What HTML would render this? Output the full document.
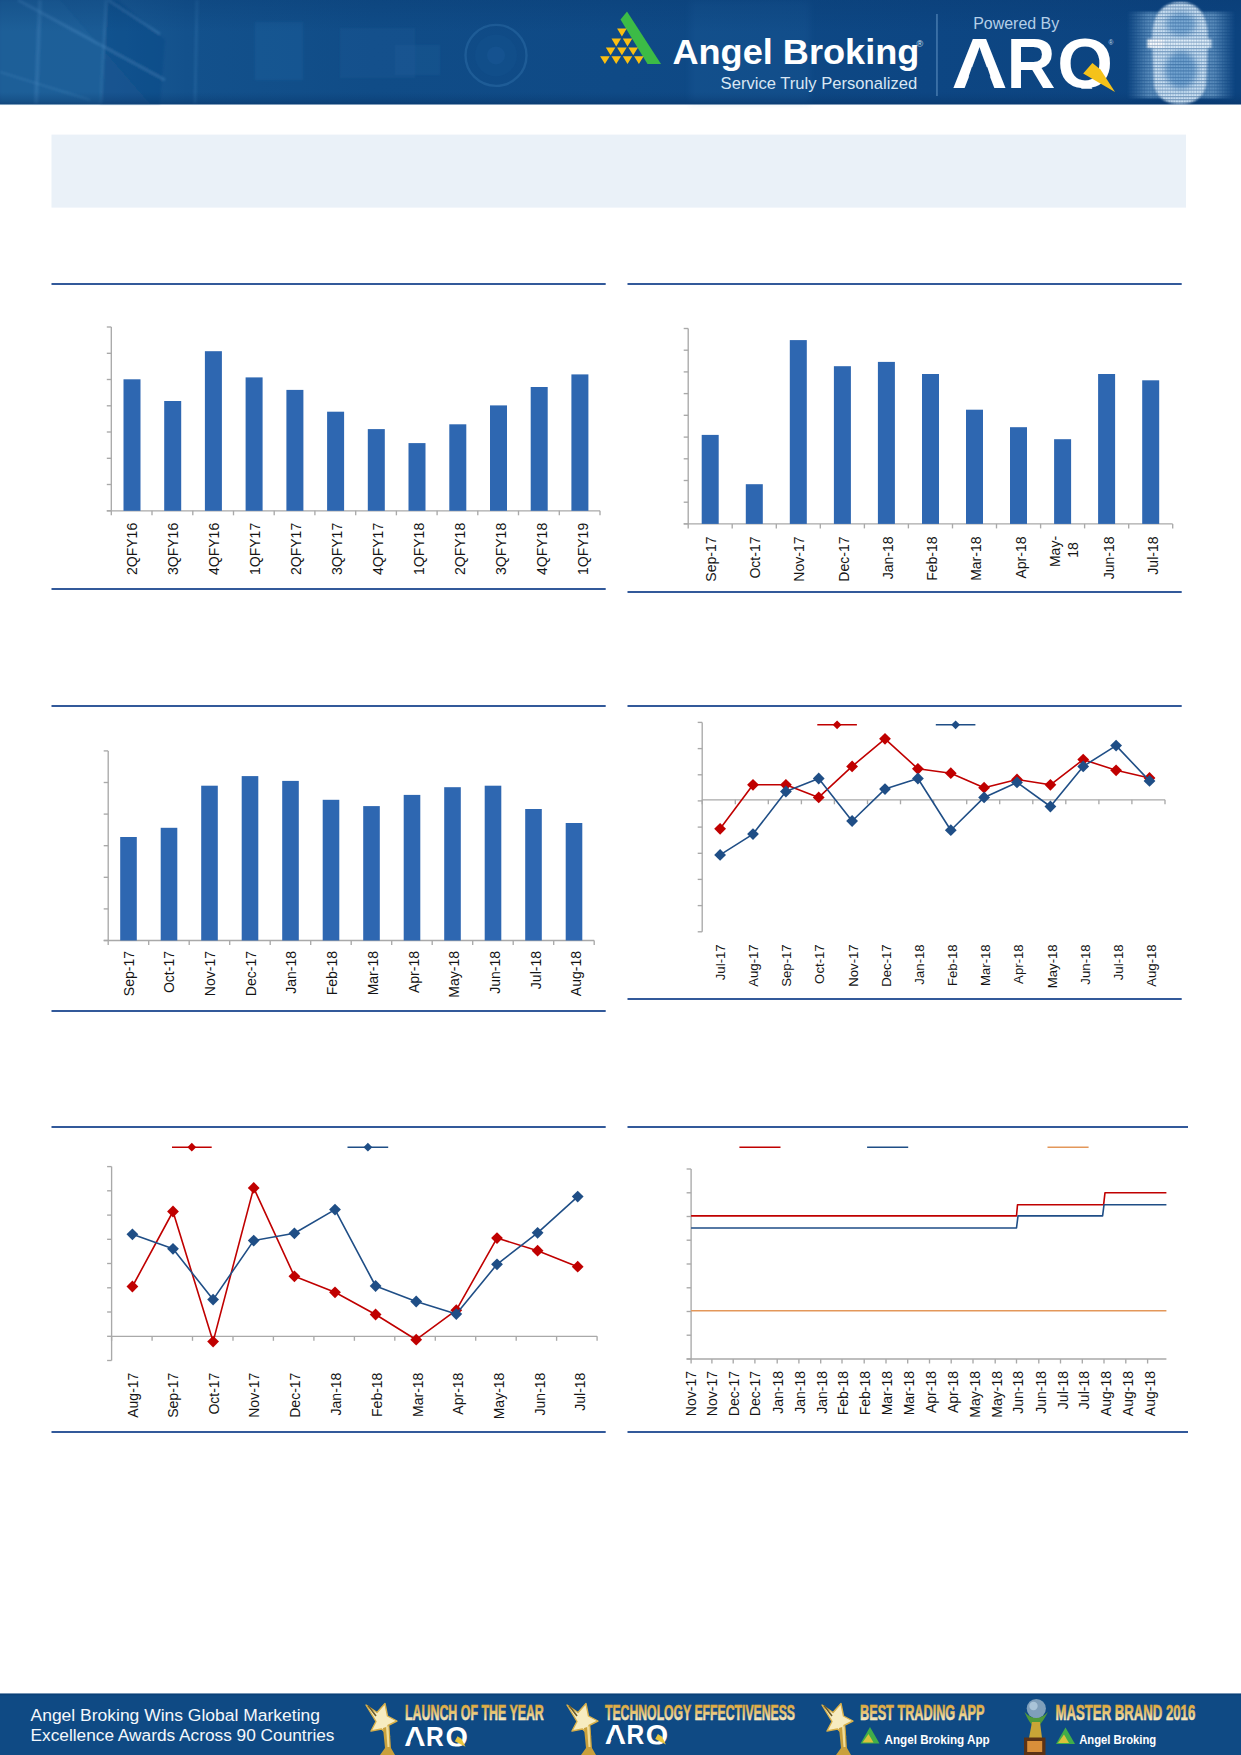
<!DOCTYPE html>
<html lang="en">
<head>
<meta charset="utf-8">
<title>Angel Broking - Market Outlook</title>
<style>
html,body{margin:0;padding:0;background:#fff;}
body{width:1241px;height:1755px;position:relative;overflow:hidden;font-family:"Liberation Sans",sans-serif;}
svg{position:absolute;left:0;top:0;display:block;}
text{font-family:"Liberation Sans",sans-serif;}
.lb{fill:#141414;}
</style>
</head>
<body>
<svg width="1241" height="1755" viewBox="0 0 1241 1755">

<defs>
<linearGradient id="hg" x1="0" y1="0" x2="1" y2="0">
<stop offset="0" stop-color="#1a5a94"/>
<stop offset="0.08" stop-color="#1a5b95"/>
<stop offset="0.15" stop-color="#13518c"/>
<stop offset="0.3" stop-color="#104c87"/>
<stop offset="0.5" stop-color="#0f4a86"/>
<stop offset="0.75" stop-color="#0d4683"/>
<stop offset="1" stop-color="#0c437f"/>
</linearGradient>
<linearGradient id="hv" x1="0" y1="0" x2="0" y2="1">
<stop offset="0" stop-color="#08386e" stop-opacity="0.3"/>
<stop offset="0.3" stop-color="#08386e" stop-opacity="0"/>
<stop offset="0.88" stop-color="#08386e" stop-opacity="0"/>
<stop offset="0.97" stop-color="#062f60" stop-opacity="0.3"/>
<stop offset="1" stop-color="#062f60" stop-opacity="0.5"/>
</linearGradient>
<radialGradient id="face" cx="0.5" cy="0.45" r="0.55">
<stop offset="0" stop-color="#cfe6f7" stop-opacity="0.95"/>
<stop offset="0.55" stop-color="#9cc6e6" stop-opacity="0.8"/>
<stop offset="1" stop-color="#3d7fb8" stop-opacity="0"/>
</radialGradient>
<linearGradient id="gold" x1="0" y1="0" x2="0" y2="1">
<stop offset="0" stop-color="#f6e39a"/>
<stop offset="0.5" stop-color="#d9b450"/>
<stop offset="1" stop-color="#b98a2a"/>
</linearGradient>
<linearGradient id="gtx" x1="0" y1="1705" x2="0" y2="1720" gradientUnits="userSpaceOnUse">
<stop offset="0" stop-color="#dba83e"/>
<stop offset="0.45" stop-color="#e6c16a"/>
<stop offset="1" stop-color="#f2e8c4"/>
</linearGradient>
<pattern id="grid" width="2.6" height="3.2" patternUnits="userSpaceOnUse">
<rect x="0" y="0" width="2.6" height="3.2" fill="#ffffff"/>
<rect x="0" y="0" width="0.8" height="3.2" fill="#c8c8c8"/>
<rect x="0" y="0" width="2.6" height="1.1" fill="#8c8c8c"/>
</pattern>
<linearGradient id="streak" x1="0" y1="0" x2="1" y2="0">
<stop offset="0" stop-color="#7fb2dc" stop-opacity="0"/>
<stop offset="0.2" stop-color="#8fbde3" stop-opacity="0.6"/>
<stop offset="0.8" stop-color="#8fbde3" stop-opacity="0.6"/>
<stop offset="1" stop-color="#7fb2dc" stop-opacity="0"/>
</linearGradient>
<filter id="b1" x="-20%" y="-20%" width="140%" height="140%"><feGaussianBlur stdDeviation="1.2"/></filter>
<filter id="b3" x="-30%" y="-30%" width="160%" height="160%"><feGaussianBlur stdDeviation="3.2"/></filter>
</defs>

<g id="header">
<rect x="0" y="0" width="1241" height="104.4" fill="url(#hg)"/>
<g filter="url(#b1)">
<polygon points="0,0 60,0 150,104 0,104" fill="#2b72ad" opacity="0.18"/>
<polygon points="108,0 118,0 165,40 160,104 100,104" fill="#0c4480" opacity="0.35"/>
<line x1="18" y1="0" x2="165" y2="80" stroke="#5a9bd0" stroke-width="3" opacity="0.28"/>
<line x1="108" y1="0" x2="160" y2="34" stroke="#5a9bd0" stroke-width="2.5" opacity="0.3"/>
<line x1="40" y1="0" x2="36" y2="104" stroke="#5a9bd0" stroke-width="4" opacity="0.22"/>
<line x1="106" y1="0" x2="101" y2="104" stroke="#5a9bd0" stroke-width="3" opacity="0.2"/>
<line x1="0" y1="72" x2="90" y2="100" stroke="#5a9bd0" stroke-width="2" opacity="0.2"/>
<line x1="197" y1="0" x2="195" y2="104" stroke="#5a9bd0" stroke-width="3" opacity="0.16"/>
<rect x="255" y="22" width="48" height="58" fill="#2a6fae" opacity="0.22"/>
<rect x="340" y="28" width="75" height="50" fill="#2a6fae" opacity="0.12"/>
<rect x="395" y="45" width="45" height="30" fill="#3a80bc" opacity="0.10"/>
</g>
<circle cx="496" cy="55.4" r="30.5" fill="none" stroke="#3576b0" stroke-width="2.4" opacity="0.4"/>
<circle cx="496" cy="55.4" r="21" fill="#14528f" opacity="0.4"/>
<circle cx="496" cy="55.4" r="9" fill="#1c5d9b" opacity="0.35"/>
<rect x="690" y="0" width="120" height="104.4" fill="#3a82c0" opacity="0.10" filter="url(#b3)"/>
<rect x="0" y="0" width="1241" height="104.4" fill="url(#hv)"/>
</g>
<rect x="51.5" y="134.6" width="1134.5" height="73" fill="#eaf1f8"/>
<g id="logos">
<polygon points="627,11.5 661,64 647.5,64 620.5,19.5" fill="#3cbb46"/>
<polygon points="617.1,28.6 626.7,28.6 621.9,36.4" fill="#fbbf12"/>
<polygon points="611.5,38.6 621,38.6 616.2,46.4" fill="#fbbf12"/>
<polygon points="622.8,38.6 632.3,38.6 627.5,46.4" fill="#fbbf12"/>
<polygon points="605.8,47.4 615.4,47.4 610.6,55.2" fill="#fbbf12"/>
<polygon points="617.1,47.4 626.7,47.4 621.9,55.2" fill="#fbbf12"/>
<polygon points="628.4,47.4 638,47.4 633.2,55.2" fill="#fbbf12"/>
<polygon points="600.1,56.2 609.7,56.2 604.9,64" fill="#fbbf12"/>
<polygon points="611.5,56.2 621,56.2 616.2,64" fill="#fbbf12"/>
<polygon points="622.8,56.2 632.3,56.2 627.5,64" fill="#fbbf12"/>
<polygon points="634.1,56.2 643.6,56.2 638.9,64" fill="#fbbf12"/>
<text x="672.4" y="64.2" font-size="35.2" font-weight="700" fill="#ffffff" textLength="247" lengthAdjust="spacingAndGlyphs">Angel Broking</text>
<text x="916.5" y="47" font-size="9" fill="#dfeaf5">®</text>
<text x="720.6" y="88.8" font-size="16.3" fill="#d9e7f4" textLength="196.6" lengthAdjust="spacingAndGlyphs">Service Truly Personalized</text>
<rect x="936.2" y="14" width="1.5" height="82" fill="#5f92c2" opacity="0.7"/>
<text x="973.2" y="28.6" font-size="16" fill="#b4cfe8" textLength="86" lengthAdjust="spacingAndGlyphs">Powered By</text>
<clipPath id="cq1"><path clip-rule="evenodd" d="M0 17.1 H1241 V88.7 H0Z M968.66 76.45 L990.45 76.45 L987.35 67.18 L971.76 67.18 Z"/></clipPath>
<text y="87.9" font-size="70.8" font-weight="700" fill="#ffffff" clip-path="url(#cq1)"><tspan x="951.6" textLength="55.97" lengthAdjust="spacingAndGlyphs">A</tspan><tspan x="1006.7" textLength="48.69" lengthAdjust="spacingAndGlyphs">R</tspan><tspan x="1057.3" textLength="55.75" lengthAdjust="spacingAndGlyphs">Q</tspan></text>
<polygon points="1092.4,63 1100.5,69.5 1115,92 1083.2,73.6" fill="#f5c21a"/>
<text x="1108.5" y="44.5" font-size="6.5" fill="#c7daec">®</text>
<mask id="fm" maskUnits="userSpaceOnUse" x="1120" y="0" width="121" height="105"><rect x="1120" y="0" width="121" height="105" fill="url(#grid)"/></mask>
<g mask="url(#fm)">
<g filter="url(#b1)">
<rect x="1127" y="12" width="108" height="86" fill="url(#streak)"/>
<path d="M1152 40 Q1152 2 1180.5 2 Q1208 2 1208 40 L1206 86 Q1201 104 1180 104 Q1159 104 1154 86 Z" fill="#d3e6f6" opacity="0.95"/>
</g>
<g filter="url(#b3)">
<ellipse cx="1181" cy="24" rx="15" ry="12" fill="#5f97c9" opacity="0.75"/>
<ellipse cx="1181" cy="70" rx="16" ry="19" fill="#5a92c6" opacity="0.8"/>
</g>
<g filter="url(#b1)">
<rect x="1147.5" y="39" width="64" height="9" fill="#e3f0fa" opacity="0.95"/>
<rect x="1147.5" y="39" width="16" height="9" fill="#ffffff"/>
</g>
</g>
</g>
<rect x="51.5" y="283" width="554.2" height="2" fill="#32599a"/>
<rect x="51.5" y="588" width="554.2" height="2" fill="#32599a"/>
<rect x="627.5" y="283" width="554.2" height="2" fill="#32599a"/>
<rect x="627.5" y="591" width="554.2" height="2" fill="#32599a"/>
<rect x="51.5" y="705" width="554.2" height="2" fill="#32599a"/>
<rect x="51.5" y="1010" width="554.2" height="2" fill="#32599a"/>
<rect x="627.5" y="705" width="554.2" height="2" fill="#32599a"/>
<rect x="627.5" y="998" width="554.2" height="2" fill="#32599a"/>
<rect x="51.5" y="1126" width="554.2" height="2" fill="#32599a"/>
<rect x="51.5" y="1431" width="554.2" height="2" fill="#32599a"/>
<rect x="627.5" y="1126" width="560.5" height="2" fill="#32599a"/>
<rect x="627.5" y="1431" width="560.5" height="2" fill="#32599a"/>
<g id="c1">
<line x1="111.3" y1="327" x2="111.3" y2="510.8" stroke="#a9a9a9" stroke-width="1.35"/>
<line x1="106.8" y1="327" x2="111.3" y2="327" stroke="#a9a9a9" stroke-width="1.35"/>
<line x1="106.8" y1="353.3" x2="111.3" y2="353.3" stroke="#a9a9a9" stroke-width="1.35"/>
<line x1="106.8" y1="379.5" x2="111.3" y2="379.5" stroke="#a9a9a9" stroke-width="1.35"/>
<line x1="106.8" y1="405.8" x2="111.3" y2="405.8" stroke="#a9a9a9" stroke-width="1.35"/>
<line x1="106.8" y1="432" x2="111.3" y2="432" stroke="#a9a9a9" stroke-width="1.35"/>
<line x1="106.8" y1="458.3" x2="111.3" y2="458.3" stroke="#a9a9a9" stroke-width="1.35"/>
<line x1="106.8" y1="484.5" x2="111.3" y2="484.5" stroke="#a9a9a9" stroke-width="1.35"/>
<line x1="106.8" y1="510.8" x2="111.3" y2="510.8" stroke="#a9a9a9" stroke-width="1.35"/>
<line x1="106.8" y1="510.8" x2="600" y2="510.8" stroke="#a9a9a9" stroke-width="1.35"/>
<line x1="111.3" y1="510.8" x2="111.3" y2="515.3" stroke="#a9a9a9" stroke-width="1.35"/>
<line x1="152" y1="510.8" x2="152" y2="515.3" stroke="#a9a9a9" stroke-width="1.35"/>
<line x1="192.8" y1="510.8" x2="192.8" y2="515.3" stroke="#a9a9a9" stroke-width="1.35"/>
<line x1="233.5" y1="510.8" x2="233.5" y2="515.3" stroke="#a9a9a9" stroke-width="1.35"/>
<line x1="274.2" y1="510.8" x2="274.2" y2="515.3" stroke="#a9a9a9" stroke-width="1.35"/>
<line x1="314.9" y1="510.8" x2="314.9" y2="515.3" stroke="#a9a9a9" stroke-width="1.35"/>
<line x1="355.7" y1="510.8" x2="355.7" y2="515.3" stroke="#a9a9a9" stroke-width="1.35"/>
<line x1="396.4" y1="510.8" x2="396.4" y2="515.3" stroke="#a9a9a9" stroke-width="1.35"/>
<line x1="437.1" y1="510.8" x2="437.1" y2="515.3" stroke="#a9a9a9" stroke-width="1.35"/>
<line x1="477.8" y1="510.8" x2="477.8" y2="515.3" stroke="#a9a9a9" stroke-width="1.35"/>
<line x1="518.5" y1="510.8" x2="518.5" y2="515.3" stroke="#a9a9a9" stroke-width="1.35"/>
<line x1="559.3" y1="510.8" x2="559.3" y2="515.3" stroke="#a9a9a9" stroke-width="1.35"/>
<line x1="600" y1="510.8" x2="600" y2="515.3" stroke="#a9a9a9" stroke-width="1.35"/>
<rect x="123.5" y="379.3" width="17" height="131.5" fill="#2e67b1"/>
<rect x="164.2" y="401" width="17" height="109.8" fill="#2e67b1"/>
<rect x="204.9" y="351.2" width="17" height="159.6" fill="#2e67b1"/>
<rect x="245.6" y="377.4" width="17" height="133.4" fill="#2e67b1"/>
<rect x="286.4" y="389.9" width="17" height="120.9" fill="#2e67b1"/>
<rect x="327.1" y="411.7" width="17" height="99.1" fill="#2e67b1"/>
<rect x="367.8" y="429.1" width="17" height="81.7" fill="#2e67b1"/>
<rect x="408.5" y="443.1" width="17" height="67.7" fill="#2e67b1"/>
<rect x="449.3" y="424.3" width="17" height="86.5" fill="#2e67b1"/>
<rect x="490" y="405.4" width="17" height="105.4" fill="#2e67b1"/>
<rect x="530.7" y="387" width="17" height="123.8" fill="#2e67b1"/>
<rect x="571.4" y="374.4" width="17" height="136.4" fill="#2e67b1"/>
<text class="lb" font-size="14" text-anchor="end" transform="translate(137.4 522.8) rotate(-90)">2QFY16</text>
<text class="lb" font-size="14" text-anchor="end" transform="translate(178.3 522.8) rotate(-90)">3QFY16</text>
<text class="lb" font-size="14" text-anchor="end" transform="translate(219.2 522.8) rotate(-90)">4QFY16</text>
<text class="lb" font-size="14" text-anchor="end" transform="translate(260.2 522.8) rotate(-90)">1QFY17</text>
<text class="lb" font-size="14" text-anchor="end" transform="translate(301.1 522.8) rotate(-90)">2QFY17</text>
<text class="lb" font-size="14" text-anchor="end" transform="translate(342.1 522.8) rotate(-90)">3QFY17</text>
<text class="lb" font-size="14" text-anchor="end" transform="translate(383 522.8) rotate(-90)">4QFY17</text>
<text class="lb" font-size="14" text-anchor="end" transform="translate(423.9 522.8) rotate(-90)">1QFY18</text>
<text class="lb" font-size="14" text-anchor="end" transform="translate(464.9 522.8) rotate(-90)">2QFY18</text>
<text class="lb" font-size="14" text-anchor="end" transform="translate(505.8 522.8) rotate(-90)">3QFY18</text>
<text class="lb" font-size="14" text-anchor="end" transform="translate(546.7 522.8) rotate(-90)">4QFY18</text>
<text class="lb" font-size="14" text-anchor="end" transform="translate(587.7 522.8) rotate(-90)">1QFY19</text>
</g>
<g id="c2">
<line x1="688.2" y1="328.5" x2="688.2" y2="523.9" stroke="#a9a9a9" stroke-width="1.35"/>
<line x1="683.7" y1="328.5" x2="688.2" y2="328.5" stroke="#a9a9a9" stroke-width="1.35"/>
<line x1="683.7" y1="350.2" x2="688.2" y2="350.2" stroke="#a9a9a9" stroke-width="1.35"/>
<line x1="683.7" y1="371.9" x2="688.2" y2="371.9" stroke="#a9a9a9" stroke-width="1.35"/>
<line x1="683.7" y1="393.6" x2="688.2" y2="393.6" stroke="#a9a9a9" stroke-width="1.35"/>
<line x1="683.7" y1="415.3" x2="688.2" y2="415.3" stroke="#a9a9a9" stroke-width="1.35"/>
<line x1="683.7" y1="437.1" x2="688.2" y2="437.1" stroke="#a9a9a9" stroke-width="1.35"/>
<line x1="683.7" y1="458.8" x2="688.2" y2="458.8" stroke="#a9a9a9" stroke-width="1.35"/>
<line x1="683.7" y1="480.5" x2="688.2" y2="480.5" stroke="#a9a9a9" stroke-width="1.35"/>
<line x1="683.7" y1="502.2" x2="688.2" y2="502.2" stroke="#a9a9a9" stroke-width="1.35"/>
<line x1="683.7" y1="523.9" x2="688.2" y2="523.9" stroke="#a9a9a9" stroke-width="1.35"/>
<line x1="683.7" y1="523.9" x2="1172.7" y2="523.9" stroke="#a9a9a9" stroke-width="1.35"/>
<line x1="688.2" y1="523.9" x2="688.2" y2="528.4" stroke="#a9a9a9" stroke-width="1.35"/>
<line x1="732.2" y1="523.9" x2="732.2" y2="528.4" stroke="#a9a9a9" stroke-width="1.35"/>
<line x1="776.3" y1="523.9" x2="776.3" y2="528.4" stroke="#a9a9a9" stroke-width="1.35"/>
<line x1="820.3" y1="523.9" x2="820.3" y2="528.4" stroke="#a9a9a9" stroke-width="1.35"/>
<line x1="864.4" y1="523.9" x2="864.4" y2="528.4" stroke="#a9a9a9" stroke-width="1.35"/>
<line x1="908.4" y1="523.9" x2="908.4" y2="528.4" stroke="#a9a9a9" stroke-width="1.35"/>
<line x1="952.5" y1="523.9" x2="952.5" y2="528.4" stroke="#a9a9a9" stroke-width="1.35"/>
<line x1="996.5" y1="523.9" x2="996.5" y2="528.4" stroke="#a9a9a9" stroke-width="1.35"/>
<line x1="1040.6" y1="523.9" x2="1040.6" y2="528.4" stroke="#a9a9a9" stroke-width="1.35"/>
<line x1="1084.6" y1="523.9" x2="1084.6" y2="528.4" stroke="#a9a9a9" stroke-width="1.35"/>
<line x1="1128.7" y1="523.9" x2="1128.7" y2="528.4" stroke="#a9a9a9" stroke-width="1.35"/>
<line x1="1172.7" y1="523.9" x2="1172.7" y2="528.4" stroke="#a9a9a9" stroke-width="1.35"/>
<rect x="701.7" y="434.9" width="17" height="89" fill="#2e67b1"/>
<rect x="745.8" y="484.2" width="17" height="39.7" fill="#2e67b1"/>
<rect x="789.8" y="340.1" width="17" height="183.8" fill="#2e67b1"/>
<rect x="833.9" y="366.2" width="17" height="157.7" fill="#2e67b1"/>
<rect x="877.9" y="361.9" width="17" height="162" fill="#2e67b1"/>
<rect x="922" y="374" width="17" height="149.9" fill="#2e67b1"/>
<rect x="966" y="409.7" width="17" height="114.2" fill="#2e67b1"/>
<rect x="1010" y="427.2" width="17" height="96.7" fill="#2e67b1"/>
<rect x="1054.1" y="439.2" width="17" height="84.7" fill="#2e67b1"/>
<rect x="1098.1" y="374" width="17" height="149.9" fill="#2e67b1"/>
<rect x="1142.2" y="380.3" width="17" height="143.6" fill="#2e67b1"/>
<text class="lb" font-size="14" text-anchor="end" transform="translate(715.7 536.5) rotate(-90)">Sep-17</text>
<text class="lb" font-size="14" text-anchor="end" transform="translate(760 536.5) rotate(-90)">Oct-17</text>
<text class="lb" font-size="14" text-anchor="end" transform="translate(804.3 536.5) rotate(-90)">Nov-17</text>
<text class="lb" font-size="14" text-anchor="end" transform="translate(848.5 536.5) rotate(-90)">Dec-17</text>
<text class="lb" font-size="14" text-anchor="end" transform="translate(892.8 536.5) rotate(-90)">Jan-18</text>
<text class="lb" font-size="14" text-anchor="end" transform="translate(937.1 536.5) rotate(-90)">Feb-18</text>
<text class="lb" font-size="14" text-anchor="end" transform="translate(981.3 536.5) rotate(-90)">Mar-18</text>
<text class="lb" font-size="14" text-anchor="end" transform="translate(1025.6 536.5) rotate(-90)">Apr-18</text>
<text class="lb" font-size="14" text-anchor="end" transform="translate(1114.1 536.5) rotate(-90)">Jun-18</text>
<text class="lb" font-size="14" text-anchor="end" transform="translate(1158.4 536.5) rotate(-90)">Jul-18</text>
</g>
<g id="c3">
<line x1="108.2" y1="750.9" x2="108.2" y2="940.5" stroke="#a9a9a9" stroke-width="1.35"/>
<line x1="103.7" y1="750.9" x2="108.2" y2="750.9" stroke="#a9a9a9" stroke-width="1.35"/>
<line x1="103.7" y1="782.5" x2="108.2" y2="782.5" stroke="#a9a9a9" stroke-width="1.35"/>
<line x1="103.7" y1="814.1" x2="108.2" y2="814.1" stroke="#a9a9a9" stroke-width="1.35"/>
<line x1="103.7" y1="845.7" x2="108.2" y2="845.7" stroke="#a9a9a9" stroke-width="1.35"/>
<line x1="103.7" y1="877.3" x2="108.2" y2="877.3" stroke="#a9a9a9" stroke-width="1.35"/>
<line x1="103.7" y1="908.9" x2="108.2" y2="908.9" stroke="#a9a9a9" stroke-width="1.35"/>
<line x1="103.7" y1="940.5" x2="108.2" y2="940.5" stroke="#a9a9a9" stroke-width="1.35"/>
<line x1="103.7" y1="940.5" x2="594.2" y2="940.5" stroke="#a9a9a9" stroke-width="1.35"/>
<line x1="108.2" y1="940.5" x2="108.2" y2="945" stroke="#a9a9a9" stroke-width="1.35"/>
<line x1="148.7" y1="940.5" x2="148.7" y2="945" stroke="#a9a9a9" stroke-width="1.35"/>
<line x1="189.2" y1="940.5" x2="189.2" y2="945" stroke="#a9a9a9" stroke-width="1.35"/>
<line x1="229.7" y1="940.5" x2="229.7" y2="945" stroke="#a9a9a9" stroke-width="1.35"/>
<line x1="270.2" y1="940.5" x2="270.2" y2="945" stroke="#a9a9a9" stroke-width="1.35"/>
<line x1="310.7" y1="940.5" x2="310.7" y2="945" stroke="#a9a9a9" stroke-width="1.35"/>
<line x1="351.2" y1="940.5" x2="351.2" y2="945" stroke="#a9a9a9" stroke-width="1.35"/>
<line x1="391.7" y1="940.5" x2="391.7" y2="945" stroke="#a9a9a9" stroke-width="1.35"/>
<line x1="432.2" y1="940.5" x2="432.2" y2="945" stroke="#a9a9a9" stroke-width="1.35"/>
<line x1="472.7" y1="940.5" x2="472.7" y2="945" stroke="#a9a9a9" stroke-width="1.35"/>
<line x1="513.2" y1="940.5" x2="513.2" y2="945" stroke="#a9a9a9" stroke-width="1.35"/>
<line x1="553.7" y1="940.5" x2="553.7" y2="945" stroke="#a9a9a9" stroke-width="1.35"/>
<line x1="594.2" y1="940.5" x2="594.2" y2="945" stroke="#a9a9a9" stroke-width="1.35"/>
<rect x="120.2" y="837" width="16.6" height="103.5" fill="#2e67b1"/>
<rect x="160.7" y="827.8" width="16.6" height="112.7" fill="#2e67b1"/>
<rect x="201.2" y="785.7" width="16.6" height="154.8" fill="#2e67b1"/>
<rect x="241.7" y="776.1" width="16.6" height="164.4" fill="#2e67b1"/>
<rect x="282.2" y="780.9" width="16.6" height="159.6" fill="#2e67b1"/>
<rect x="322.7" y="799.8" width="16.6" height="140.7" fill="#2e67b1"/>
<rect x="363.2" y="806.1" width="16.6" height="134.4" fill="#2e67b1"/>
<rect x="403.7" y="794.9" width="16.6" height="145.6" fill="#2e67b1"/>
<rect x="444.2" y="787.2" width="16.6" height="153.3" fill="#2e67b1"/>
<rect x="484.7" y="785.7" width="16.6" height="154.8" fill="#2e67b1"/>
<rect x="525.2" y="809" width="16.6" height="131.5" fill="#2e67b1"/>
<rect x="565.7" y="823" width="16.6" height="117.5" fill="#2e67b1"/>
<text class="lb" font-size="14" text-anchor="end" transform="translate(133.6 951) rotate(-90)">Sep-17</text>
<text class="lb" font-size="14" text-anchor="end" transform="translate(174.3 951) rotate(-90)">Oct-17</text>
<text class="lb" font-size="14" text-anchor="end" transform="translate(215 951) rotate(-90)">Nov-17</text>
<text class="lb" font-size="14" text-anchor="end" transform="translate(255.7 951) rotate(-90)">Dec-17</text>
<text class="lb" font-size="14" text-anchor="end" transform="translate(296.4 951) rotate(-90)">Jan-18</text>
<text class="lb" font-size="14" text-anchor="end" transform="translate(337.1 951) rotate(-90)">Feb-18</text>
<text class="lb" font-size="14" text-anchor="end" transform="translate(377.8 951) rotate(-90)">Mar-18</text>
<text class="lb" font-size="14" text-anchor="end" transform="translate(418.5 951) rotate(-90)">Apr-18</text>
<text class="lb" font-size="14" text-anchor="end" transform="translate(459.2 951) rotate(-90)">May-18</text>
<text class="lb" font-size="14" text-anchor="end" transform="translate(499.9 951) rotate(-90)">Jun-18</text>
<text class="lb" font-size="14" text-anchor="end" transform="translate(540.6 951) rotate(-90)">Jul-18</text>
<text class="lb" font-size="14" text-anchor="end" transform="translate(581.3 951) rotate(-90)">Aug-18</text>
</g>
<g id="c4">
<line x1="702.2" y1="722.4" x2="702.2" y2="931.8" stroke="#a9a9a9" stroke-width="1.35"/>
<line x1="697.7" y1="722.4" x2="702.2" y2="722.4" stroke="#a9a9a9" stroke-width="1.35"/>
<line x1="697.7" y1="748.6" x2="702.2" y2="748.6" stroke="#a9a9a9" stroke-width="1.35"/>
<line x1="697.7" y1="774.8" x2="702.2" y2="774.8" stroke="#a9a9a9" stroke-width="1.35"/>
<line x1="697.7" y1="800.9" x2="702.2" y2="800.9" stroke="#a9a9a9" stroke-width="1.35"/>
<line x1="697.7" y1="827.1" x2="702.2" y2="827.1" stroke="#a9a9a9" stroke-width="1.35"/>
<line x1="697.7" y1="853.3" x2="702.2" y2="853.3" stroke="#a9a9a9" stroke-width="1.35"/>
<line x1="697.7" y1="879.4" x2="702.2" y2="879.4" stroke="#a9a9a9" stroke-width="1.35"/>
<line x1="697.7" y1="905.6" x2="702.2" y2="905.6" stroke="#a9a9a9" stroke-width="1.35"/>
<line x1="697.7" y1="931.8" x2="702.2" y2="931.8" stroke="#a9a9a9" stroke-width="1.35"/>
<line x1="702.2" y1="799.8" x2="1165" y2="799.8" stroke="#a9a9a9" stroke-width="1.35"/>
<line x1="702.2" y1="799.8" x2="702.2" y2="804.3" stroke="#a9a9a9" stroke-width="1.35"/>
<line x1="735.3" y1="799.8" x2="735.3" y2="804.3" stroke="#a9a9a9" stroke-width="1.35"/>
<line x1="768.3" y1="799.8" x2="768.3" y2="804.3" stroke="#a9a9a9" stroke-width="1.35"/>
<line x1="801.4" y1="799.8" x2="801.4" y2="804.3" stroke="#a9a9a9" stroke-width="1.35"/>
<line x1="834.4" y1="799.8" x2="834.4" y2="804.3" stroke="#a9a9a9" stroke-width="1.35"/>
<line x1="867.5" y1="799.8" x2="867.5" y2="804.3" stroke="#a9a9a9" stroke-width="1.35"/>
<line x1="900.5" y1="799.8" x2="900.5" y2="804.3" stroke="#a9a9a9" stroke-width="1.35"/>
<line x1="933.6" y1="799.8" x2="933.6" y2="804.3" stroke="#a9a9a9" stroke-width="1.35"/>
<line x1="966.7" y1="799.8" x2="966.7" y2="804.3" stroke="#a9a9a9" stroke-width="1.35"/>
<line x1="999.7" y1="799.8" x2="999.7" y2="804.3" stroke="#a9a9a9" stroke-width="1.35"/>
<line x1="1032.8" y1="799.8" x2="1032.8" y2="804.3" stroke="#a9a9a9" stroke-width="1.35"/>
<line x1="1065.8" y1="799.8" x2="1065.8" y2="804.3" stroke="#a9a9a9" stroke-width="1.35"/>
<line x1="1098.9" y1="799.8" x2="1098.9" y2="804.3" stroke="#a9a9a9" stroke-width="1.35"/>
<line x1="1131.9" y1="799.8" x2="1131.9" y2="804.3" stroke="#a9a9a9" stroke-width="1.35"/>
<line x1="1165" y1="799.8" x2="1165" y2="804.3" stroke="#a9a9a9" stroke-width="1.35"/>
<polyline points="720.1,828.8 753,784.8 785.9,784.8 818.7,797.4 852.1,766.4 885,738.8 917.9,768.8 950.8,773.2 984.1,787.7 1017,779.5 1050.4,784.8 1083.2,759.6 1116.1,770.3 1149.5,778" fill="none" stroke="#c00000" stroke-width="1.6" stroke-linejoin="round"/>
<polygon points="720.1,822.9 726,828.8 720.1,834.7 714.2,828.8" fill="#c00000"/>
<polygon points="753,778.9 758.9,784.8 753,790.7 747.1,784.8" fill="#c00000"/>
<polygon points="785.9,778.9 791.8,784.8 785.9,790.7 780,784.8" fill="#c00000"/>
<polygon points="818.7,791.5 824.6,797.4 818.7,803.3 812.8,797.4" fill="#c00000"/>
<polygon points="852.1,760.5 858,766.4 852.1,772.3 846.2,766.4" fill="#c00000"/>
<polygon points="885,732.9 890.9,738.8 885,744.7 879.1,738.8" fill="#c00000"/>
<polygon points="917.9,762.9 923.8,768.8 917.9,774.7 912,768.8" fill="#c00000"/>
<polygon points="950.8,767.3 956.7,773.2 950.8,779.1 944.9,773.2" fill="#c00000"/>
<polygon points="984.1,781.8 990,787.7 984.1,793.6 978.2,787.7" fill="#c00000"/>
<polygon points="1017,773.6 1022.9,779.5 1017,785.4 1011.1,779.5" fill="#c00000"/>
<polygon points="1050.4,778.9 1056.3,784.8 1050.4,790.7 1044.5,784.8" fill="#c00000"/>
<polygon points="1083.2,753.7 1089.1,759.6 1083.2,765.5 1077.3,759.6" fill="#c00000"/>
<polygon points="1116.1,764.4 1122,770.3 1116.1,776.2 1110.2,770.3" fill="#c00000"/>
<polygon points="1149.5,772.1 1155.4,778 1149.5,783.9 1143.6,778" fill="#c00000"/>
<polyline points="720.1,854.9 753,834.1 785.9,791.5 818.7,778.5 852.1,821 885,789.1 917.9,778.5 950.8,830.2 984.1,797.4 1017,782.4 1050.4,806.5 1083.2,766.4 1116.1,745.6 1149.5,780.9" fill="none" stroke="#1f4e86" stroke-width="1.6" stroke-linejoin="round"/>
<polygon points="720.1,849 726,854.9 720.1,860.8 714.2,854.9" fill="#1f4e86"/>
<polygon points="753,828.2 758.9,834.1 753,840 747.1,834.1" fill="#1f4e86"/>
<polygon points="785.9,785.6 791.8,791.5 785.9,797.4 780,791.5" fill="#1f4e86"/>
<polygon points="818.7,772.6 824.6,778.5 818.7,784.4 812.8,778.5" fill="#1f4e86"/>
<polygon points="852.1,815.1 858,821 852.1,826.9 846.2,821" fill="#1f4e86"/>
<polygon points="885,783.2 890.9,789.1 885,795 879.1,789.1" fill="#1f4e86"/>
<polygon points="917.9,772.6 923.8,778.5 917.9,784.4 912,778.5" fill="#1f4e86"/>
<polygon points="950.8,824.3 956.7,830.2 950.8,836.1 944.9,830.2" fill="#1f4e86"/>
<polygon points="984.1,791.5 990,797.4 984.1,803.3 978.2,797.4" fill="#1f4e86"/>
<polygon points="1017,776.5 1022.9,782.4 1017,788.3 1011.1,782.4" fill="#1f4e86"/>
<polygon points="1050.4,800.6 1056.3,806.5 1050.4,812.4 1044.5,806.5" fill="#1f4e86"/>
<polygon points="1083.2,760.5 1089.1,766.4 1083.2,772.3 1077.3,766.4" fill="#1f4e86"/>
<polygon points="1116.1,739.7 1122,745.6 1116.1,751.5 1110.2,745.6" fill="#1f4e86"/>
<polygon points="1149.5,775 1155.4,780.9 1149.5,786.8 1143.6,780.9" fill="#1f4e86"/>
<line x1="817.3" y1="724.8" x2="856.9" y2="724.8" stroke="#c00000" stroke-width="1.6"/>
<polygon points="837.1,720.4 841.5,724.8 837.1,729.2 832.7,724.8" fill="#c00000"/>
<line x1="935.8" y1="724.8" x2="975.4" y2="724.8" stroke="#1f4e86" stroke-width="1.6"/>
<polygon points="955.6,720.4 960,724.8 955.6,729.2 951.2,724.8" fill="#1f4e86"/>
<text class="lb" font-size="13.2" text-anchor="end" transform="translate(724.9 944.3) rotate(-90)">Jul-17</text>
<text class="lb" font-size="13.2" text-anchor="end" transform="translate(757.9 944.3) rotate(-90)">Aug-17</text>
<text class="lb" font-size="13.2" text-anchor="end" transform="translate(791 944.3) rotate(-90)">Sep-17</text>
<text class="lb" font-size="13.2" text-anchor="end" transform="translate(824 944.3) rotate(-90)">Oct-17</text>
<text class="lb" font-size="13.2" text-anchor="end" transform="translate(857.6 944.3) rotate(-90)">Nov-17</text>
<text class="lb" font-size="13.2" text-anchor="end" transform="translate(890.6 944.3) rotate(-90)">Dec-17</text>
<text class="lb" font-size="13.2" text-anchor="end" transform="translate(923.7 944.3) rotate(-90)">Jan-18</text>
<text class="lb" font-size="13.2" text-anchor="end" transform="translate(956.7 944.3) rotate(-90)">Feb-18</text>
<text class="lb" font-size="13.2" text-anchor="end" transform="translate(990.2 944.3) rotate(-90)">Mar-18</text>
<text class="lb" font-size="13.2" text-anchor="end" transform="translate(1023.3 944.3) rotate(-90)">Apr-18</text>
<text class="lb" font-size="13.2" text-anchor="end" transform="translate(1056.8 944.3) rotate(-90)">May-18</text>
<text class="lb" font-size="13.2" text-anchor="end" transform="translate(1089.9 944.3) rotate(-90)">Jun-18</text>
<text class="lb" font-size="13.2" text-anchor="end" transform="translate(1122.9 944.3) rotate(-90)">Jul-18</text>
<text class="lb" font-size="13.2" text-anchor="end" transform="translate(1156.4 944.3) rotate(-90)">Aug-18</text>
</g>
<g id="c5">
<line x1="111.6" y1="1166.6" x2="111.6" y2="1360.5" stroke="#a9a9a9" stroke-width="1.35"/>
<line x1="107.1" y1="1166.6" x2="111.6" y2="1166.6" stroke="#a9a9a9" stroke-width="1.35"/>
<line x1="107.1" y1="1190.8" x2="111.6" y2="1190.8" stroke="#a9a9a9" stroke-width="1.35"/>
<line x1="107.1" y1="1215.1" x2="111.6" y2="1215.1" stroke="#a9a9a9" stroke-width="1.35"/>
<line x1="107.1" y1="1239.3" x2="111.6" y2="1239.3" stroke="#a9a9a9" stroke-width="1.35"/>
<line x1="107.1" y1="1263.5" x2="111.6" y2="1263.5" stroke="#a9a9a9" stroke-width="1.35"/>
<line x1="107.1" y1="1287.8" x2="111.6" y2="1287.8" stroke="#a9a9a9" stroke-width="1.35"/>
<line x1="107.1" y1="1312" x2="111.6" y2="1312" stroke="#a9a9a9" stroke-width="1.35"/>
<line x1="107.1" y1="1336.3" x2="111.6" y2="1336.3" stroke="#a9a9a9" stroke-width="1.35"/>
<line x1="107.1" y1="1360.5" x2="111.6" y2="1360.5" stroke="#a9a9a9" stroke-width="1.35"/>
<line x1="111.6" y1="1336.3" x2="597.1" y2="1336.3" stroke="#a9a9a9" stroke-width="1.35"/>
<line x1="111.6" y1="1336.3" x2="111.6" y2="1340.8" stroke="#a9a9a9" stroke-width="1.35"/>
<line x1="152.1" y1="1336.3" x2="152.1" y2="1340.8" stroke="#a9a9a9" stroke-width="1.35"/>
<line x1="192.5" y1="1336.3" x2="192.5" y2="1340.8" stroke="#a9a9a9" stroke-width="1.35"/>
<line x1="233" y1="1336.3" x2="233" y2="1340.8" stroke="#a9a9a9" stroke-width="1.35"/>
<line x1="273.4" y1="1336.3" x2="273.4" y2="1340.8" stroke="#a9a9a9" stroke-width="1.35"/>
<line x1="313.9" y1="1336.3" x2="313.9" y2="1340.8" stroke="#a9a9a9" stroke-width="1.35"/>
<line x1="354.4" y1="1336.3" x2="354.4" y2="1340.8" stroke="#a9a9a9" stroke-width="1.35"/>
<line x1="394.8" y1="1336.3" x2="394.8" y2="1340.8" stroke="#a9a9a9" stroke-width="1.35"/>
<line x1="435.3" y1="1336.3" x2="435.3" y2="1340.8" stroke="#a9a9a9" stroke-width="1.35"/>
<line x1="475.7" y1="1336.3" x2="475.7" y2="1340.8" stroke="#a9a9a9" stroke-width="1.35"/>
<line x1="516.2" y1="1336.3" x2="516.2" y2="1340.8" stroke="#a9a9a9" stroke-width="1.35"/>
<line x1="556.6" y1="1336.3" x2="556.6" y2="1340.8" stroke="#a9a9a9" stroke-width="1.35"/>
<line x1="597.1" y1="1336.3" x2="597.1" y2="1340.8" stroke="#a9a9a9" stroke-width="1.35"/>
<polyline points="132.4,1286.5 173,1211.5 213.1,1341.6 253.7,1187.9 294.4,1276.3 335,1292.3 375.6,1314.5 416.2,1339.7 456.3,1310.2 497,1238.1 537.6,1250.7 577.7,1266.7" fill="none" stroke="#c00000" stroke-width="1.6" stroke-linejoin="round"/>
<polygon points="132.4,1280.6 138.3,1286.5 132.4,1292.4 126.5,1286.5" fill="#c00000"/>
<polygon points="173,1205.6 178.9,1211.5 173,1217.4 167.1,1211.5" fill="#c00000"/>
<polygon points="213.1,1335.7 219,1341.6 213.1,1347.5 207.2,1341.6" fill="#c00000"/>
<polygon points="253.7,1182 259.6,1187.9 253.7,1193.8 247.8,1187.9" fill="#c00000"/>
<polygon points="294.4,1270.4 300.3,1276.3 294.4,1282.2 288.5,1276.3" fill="#c00000"/>
<polygon points="335,1286.4 340.9,1292.3 335,1298.2 329.1,1292.3" fill="#c00000"/>
<polygon points="375.6,1308.6 381.5,1314.5 375.6,1320.4 369.7,1314.5" fill="#c00000"/>
<polygon points="416.2,1333.8 422.1,1339.7 416.2,1345.6 410.3,1339.7" fill="#c00000"/>
<polygon points="456.3,1304.3 462.2,1310.2 456.3,1316.1 450.4,1310.2" fill="#c00000"/>
<polygon points="497,1232.2 502.9,1238.1 497,1244 491.1,1238.1" fill="#c00000"/>
<polygon points="537.6,1244.8 543.5,1250.7 537.6,1256.6 531.7,1250.7" fill="#c00000"/>
<polygon points="577.7,1260.8 583.6,1266.7 577.7,1272.6 571.8,1266.7" fill="#c00000"/>
<polyline points="132.4,1234.3 173,1248.8 213.1,1299.6 253.7,1240.6 294.4,1233.3 335,1209.6 375.6,1286 416.2,1301.5 456.3,1314.1 497,1264.3 537.6,1232.8 577.7,1196.6" fill="none" stroke="#1f4e86" stroke-width="1.6" stroke-linejoin="round"/>
<polygon points="132.4,1228.4 138.3,1234.3 132.4,1240.2 126.5,1234.3" fill="#1f4e86"/>
<polygon points="173,1242.9 178.9,1248.8 173,1254.7 167.1,1248.8" fill="#1f4e86"/>
<polygon points="213.1,1293.7 219,1299.6 213.1,1305.5 207.2,1299.6" fill="#1f4e86"/>
<polygon points="253.7,1234.7 259.6,1240.6 253.7,1246.5 247.8,1240.6" fill="#1f4e86"/>
<polygon points="294.4,1227.4 300.3,1233.3 294.4,1239.2 288.5,1233.3" fill="#1f4e86"/>
<polygon points="335,1203.7 340.9,1209.6 335,1215.5 329.1,1209.6" fill="#1f4e86"/>
<polygon points="375.6,1280.1 381.5,1286 375.6,1291.9 369.7,1286" fill="#1f4e86"/>
<polygon points="416.2,1295.6 422.1,1301.5 416.2,1307.4 410.3,1301.5" fill="#1f4e86"/>
<polygon points="456.3,1308.2 462.2,1314.1 456.3,1320 450.4,1314.1" fill="#1f4e86"/>
<polygon points="497,1258.4 502.9,1264.3 497,1270.2 491.1,1264.3" fill="#1f4e86"/>
<polygon points="537.6,1226.9 543.5,1232.8 537.6,1238.7 531.7,1232.8" fill="#1f4e86"/>
<polygon points="577.7,1190.7 583.6,1196.6 577.7,1202.5 571.8,1196.6" fill="#1f4e86"/>
<line x1="172" y1="1147.2" x2="211.7" y2="1147.2" stroke="#c00000" stroke-width="1.6"/>
<polygon points="191.8,1142.8 196.2,1147.2 191.8,1151.6 187.4,1147.2" fill="#c00000"/>
<line x1="347.5" y1="1147.2" x2="388.2" y2="1147.2" stroke="#1f4e86" stroke-width="1.6"/>
<polygon points="367.9,1142.8 372.3,1147.2 367.9,1151.6 363.5,1147.2" fill="#1f4e86"/>
<text class="lb" font-size="14" text-anchor="end" transform="translate(137.5 1372.6) rotate(-90)">Aug-17</text>
<text class="lb" font-size="14" text-anchor="end" transform="translate(178.3 1372.6) rotate(-90)">Sep-17</text>
<text class="lb" font-size="14" text-anchor="end" transform="translate(218.6 1372.6) rotate(-90)">Oct-17</text>
<text class="lb" font-size="14" text-anchor="end" transform="translate(259.4 1372.6) rotate(-90)">Nov-17</text>
<text class="lb" font-size="14" text-anchor="end" transform="translate(300.3 1372.6) rotate(-90)">Dec-17</text>
<text class="lb" font-size="14" text-anchor="end" transform="translate(341.1 1372.6) rotate(-90)">Jan-18</text>
<text class="lb" font-size="14" text-anchor="end" transform="translate(381.9 1372.6) rotate(-90)">Feb-18</text>
<text class="lb" font-size="14" text-anchor="end" transform="translate(422.7 1372.6) rotate(-90)">Mar-18</text>
<text class="lb" font-size="14" text-anchor="end" transform="translate(463.1 1372.6) rotate(-90)">Apr-18</text>
<text class="lb" font-size="14" text-anchor="end" transform="translate(503.9 1372.6) rotate(-90)">May-18</text>
<text class="lb" font-size="14" text-anchor="end" transform="translate(544.7 1372.6) rotate(-90)">Jun-18</text>
<text class="lb" font-size="14" text-anchor="end" transform="translate(585 1372.6) rotate(-90)">Jul-18</text>
</g>
<g id="c6">
<line x1="691.1" y1="1169" x2="691.1" y2="1359" stroke="#a9a9a9" stroke-width="1.35"/>
<line x1="686.6" y1="1169" x2="691.1" y2="1169" stroke="#a9a9a9" stroke-width="1.35"/>
<line x1="686.6" y1="1192.8" x2="691.1" y2="1192.8" stroke="#a9a9a9" stroke-width="1.35"/>
<line x1="686.6" y1="1216.5" x2="691.1" y2="1216.5" stroke="#a9a9a9" stroke-width="1.35"/>
<line x1="686.6" y1="1240.2" x2="691.1" y2="1240.2" stroke="#a9a9a9" stroke-width="1.35"/>
<line x1="686.6" y1="1264" x2="691.1" y2="1264" stroke="#a9a9a9" stroke-width="1.35"/>
<line x1="686.6" y1="1287.8" x2="691.1" y2="1287.8" stroke="#a9a9a9" stroke-width="1.35"/>
<line x1="686.6" y1="1311.5" x2="691.1" y2="1311.5" stroke="#a9a9a9" stroke-width="1.35"/>
<line x1="686.6" y1="1335.2" x2="691.1" y2="1335.2" stroke="#a9a9a9" stroke-width="1.35"/>
<line x1="686.6" y1="1359" x2="691.1" y2="1359" stroke="#a9a9a9" stroke-width="1.35"/>
<line x1="686.6" y1="1359" x2="1166.4" y2="1359" stroke="#a9a9a9" stroke-width="1.35"/>
<line x1="691.1" y1="1359" x2="691.1" y2="1363.5" stroke="#a9a9a9" stroke-width="1.35"/>
<line x1="711.9" y1="1359" x2="711.9" y2="1363.5" stroke="#a9a9a9" stroke-width="1.35"/>
<line x1="733.2" y1="1359" x2="733.2" y2="1363.5" stroke="#a9a9a9" stroke-width="1.35"/>
<line x1="754.9" y1="1359" x2="754.9" y2="1363.5" stroke="#a9a9a9" stroke-width="1.35"/>
<line x1="777.2" y1="1359" x2="777.2" y2="1363.5" stroke="#a9a9a9" stroke-width="1.35"/>
<line x1="798.9" y1="1359" x2="798.9" y2="1363.5" stroke="#a9a9a9" stroke-width="1.35"/>
<line x1="820.7" y1="1359" x2="820.7" y2="1363.5" stroke="#a9a9a9" stroke-width="1.35"/>
<line x1="842" y1="1359" x2="842" y2="1363.5" stroke="#a9a9a9" stroke-width="1.35"/>
<line x1="864.2" y1="1359" x2="864.2" y2="1363.5" stroke="#a9a9a9" stroke-width="1.35"/>
<line x1="886" y1="1359" x2="886" y2="1363.5" stroke="#a9a9a9" stroke-width="1.35"/>
<line x1="907.7" y1="1359" x2="907.7" y2="1363.5" stroke="#a9a9a9" stroke-width="1.35"/>
<line x1="929.5" y1="1359" x2="929.5" y2="1363.5" stroke="#a9a9a9" stroke-width="1.35"/>
<line x1="951.2" y1="1359" x2="951.2" y2="1363.5" stroke="#a9a9a9" stroke-width="1.35"/>
<line x1="973" y1="1359" x2="973" y2="1363.5" stroke="#a9a9a9" stroke-width="1.35"/>
<line x1="995.2" y1="1359" x2="995.2" y2="1363.5" stroke="#a9a9a9" stroke-width="1.35"/>
<line x1="1016.5" y1="1359" x2="1016.5" y2="1363.5" stroke="#a9a9a9" stroke-width="1.35"/>
<line x1="1038.8" y1="1359" x2="1038.8" y2="1363.5" stroke="#a9a9a9" stroke-width="1.35"/>
<line x1="1060.5" y1="1359" x2="1060.5" y2="1363.5" stroke="#a9a9a9" stroke-width="1.35"/>
<line x1="1082.3" y1="1359" x2="1082.3" y2="1363.5" stroke="#a9a9a9" stroke-width="1.35"/>
<line x1="1104" y1="1359" x2="1104" y2="1363.5" stroke="#a9a9a9" stroke-width="1.35"/>
<line x1="1125.8" y1="1359" x2="1125.8" y2="1363.5" stroke="#a9a9a9" stroke-width="1.35"/>
<line x1="1147.6" y1="1359" x2="1147.6" y2="1363.5" stroke="#a9a9a9" stroke-width="1.35"/>
<polyline points="691.1,1215.9 1016.5,1215.9 1017.5,1204.8 1103.6,1204.8 1105,1192.7 1166.4,1192.7" fill="none" stroke="#c00000" stroke-width="1.6" stroke-linejoin="round"/>
<polyline points="691.1,1228 1016.5,1228 1018,1215.9 1102.6,1215.9 1104,1204.8 1166.4,1204.8" fill="none" stroke="#1f4e86" stroke-width="1.6" stroke-linejoin="round"/>
<polyline points="691.1,1310.7 1166.4,1310.7" fill="none" stroke="#e3975a" stroke-width="1.6" stroke-linejoin="round"/>
<line x1="739.4" y1="1147.2" x2="780.5" y2="1147.2" stroke="#c00000" stroke-width="1.6"/>
<line x1="867.1" y1="1147.2" x2="908.2" y2="1147.2" stroke="#1f4e86" stroke-width="1.6"/>
<line x1="1047.5" y1="1147.2" x2="1088.6" y2="1147.2" stroke="#e3975a" stroke-width="1.6"/>
<text class="lb" font-size="14" text-anchor="end" transform="translate(696.3 1371) rotate(-90)">Nov-17</text>
<text class="lb" font-size="14" text-anchor="end" transform="translate(717.2 1371) rotate(-90)">Nov-17</text>
<text class="lb" font-size="14" text-anchor="end" transform="translate(738.6 1371) rotate(-90)">Dec-17</text>
<text class="lb" font-size="14" text-anchor="end" transform="translate(760.4 1371) rotate(-90)">Dec-17</text>
<text class="lb" font-size="14" text-anchor="end" transform="translate(782.8 1371) rotate(-90)">Jan-18</text>
<text class="lb" font-size="14" text-anchor="end" transform="translate(804.7 1371) rotate(-90)">Jan-18</text>
<text class="lb" font-size="14" text-anchor="end" transform="translate(826.5 1371) rotate(-90)">Jan-18</text>
<text class="lb" font-size="14" text-anchor="end" transform="translate(847.9 1371) rotate(-90)">Feb-18</text>
<text class="lb" font-size="14" text-anchor="end" transform="translate(870.3 1371) rotate(-90)">Feb-18</text>
<text class="lb" font-size="14" text-anchor="end" transform="translate(892.1 1371) rotate(-90)">Mar-18</text>
<text class="lb" font-size="14" text-anchor="end" transform="translate(914 1371) rotate(-90)">Mar-18</text>
<text class="lb" font-size="14" text-anchor="end" transform="translate(935.9 1371) rotate(-90)">Apr-18</text>
<text class="lb" font-size="14" text-anchor="end" transform="translate(957.7 1371) rotate(-90)">Apr-18</text>
<text class="lb" font-size="14" text-anchor="end" transform="translate(979.6 1371) rotate(-90)">May-18</text>
<text class="lb" font-size="14" text-anchor="end" transform="translate(1002 1371) rotate(-90)">May-18</text>
<text class="lb" font-size="14" text-anchor="end" transform="translate(1023.3 1371) rotate(-90)">Jun-18</text>
<text class="lb" font-size="14" text-anchor="end" transform="translate(1045.7 1371) rotate(-90)">Jun-18</text>
<text class="lb" font-size="14" text-anchor="end" transform="translate(1067.6 1371) rotate(-90)">Jul-18</text>
<text class="lb" font-size="14" text-anchor="end" transform="translate(1089.4 1371) rotate(-90)">Jul-18</text>
<text class="lb" font-size="14" text-anchor="end" transform="translate(1111.3 1371) rotate(-90)">Aug-18</text>
<text class="lb" font-size="14" text-anchor="end" transform="translate(1133.2 1371) rotate(-90)">Aug-18</text>
<text class="lb" font-size="14" text-anchor="end" transform="translate(1155 1371) rotate(-90)">Aug-18</text>
</g>
<text class="lb" font-size="14" text-anchor="middle" transform="translate(1060.2 551.5) rotate(-90)">May-</text>
<text class="lb" font-size="14" text-anchor="middle" transform="translate(1077.9 550) rotate(-90)">18</text>
<g id="footer">
<rect x="0" y="1693.6" width="1241" height="61.4" fill="#0f4a84"/>
<rect x="0" y="1693.6" width="1241" height="1.6" fill="#0a3d74" opacity="0.7"/>
<text x="30.5" y="1720.8" font-size="17.2" fill="#f4f8fc" textLength="289.5" lengthAdjust="spacingAndGlyphs">Angel Broking Wins Global Marketing</text>
<text x="30.5" y="1741.2" font-size="17.2" fill="#f4f8fc" textLength="304" lengthAdjust="spacingAndGlyphs">Excellence Awards Across 90 Countries</text>
<polygon points="366,1705 377,1712.5 385,1703.5 387.5,1716 397,1721 388,1725.5 389.5,1736.5 381.5,1729 371,1731 376,1721.5" fill="#f7ecc0" stroke="#d8b04a" stroke-width="1.4" stroke-linejoin="round"/>
<polygon points="383,1728 389.5,1726 391,1748 395,1755 380,1755 385,1748" fill="#c9a03c"/>
<polygon points="386,1727 388.5,1726 389.5,1747 387.5,1747" fill="#f0dc98"/>
<line x1="368" y1="1705.5" x2="376" y2="1716" stroke="#6a5a2a" stroke-width="1.6"/>
<polygon points="567,1705 578,1712.5 586,1703.5 588.5,1716 598,1721 589,1725.5 590.5,1736.5 582.5,1729 572,1731 577,1721.5" fill="#f7ecc0" stroke="#d8b04a" stroke-width="1.4" stroke-linejoin="round"/>
<polygon points="584,1728 590.5,1726 592,1748 596,1755 581,1755 586,1748" fill="#c9a03c"/>
<polygon points="587,1727 589.5,1726 590.5,1747 588.5,1747" fill="#f0dc98"/>
<line x1="569" y1="1705.5" x2="577" y2="1716" stroke="#6a5a2a" stroke-width="1.6"/>
<polygon points="822,1705 833,1712.5 841,1703.5 843.5,1716 853,1721 844,1725.5 845.5,1736.5 837.5,1729 827,1731 832,1721.5" fill="#f7ecc0" stroke="#d8b04a" stroke-width="1.4" stroke-linejoin="round"/>
<polygon points="839,1728 845.5,1726 847,1748 851,1755 836,1755 841,1748" fill="#c9a03c"/>
<polygon points="842,1727 844.5,1726 845.5,1747 843.5,1747" fill="#f0dc98"/>
<line x1="824" y1="1705.5" x2="832" y2="1716" stroke="#6a5a2a" stroke-width="1.6"/>
<text x="405" y="1720" font-size="21.2" font-weight="700" fill="url(#gtx)" stroke="url(#gtx)" stroke-width="0.55" textLength="138.8" lengthAdjust="spacingAndGlyphs">LAUNCH OF THE YEAR</text>
<text x="605" y="1720" font-size="21.2" font-weight="700" fill="url(#gtx)" stroke="url(#gtx)" stroke-width="0.55" textLength="190" lengthAdjust="spacingAndGlyphs">TECHNOLOGY EFFECTIVENESS</text>
<text x="860" y="1720" font-size="21.2" font-weight="700" fill="url(#gtx)" stroke="url(#gtx)" stroke-width="0.55" textLength="124.4" lengthAdjust="spacingAndGlyphs">BEST TRADING APP</text>
<text x="1055.6" y="1720" font-size="21.2" font-weight="700" fill="url(#gtx)" stroke="url(#gtx)" stroke-width="0.55" textLength="139.6" lengthAdjust="spacingAndGlyphs">MASTER BRAND 2016</text>
<clipPath id="cq2"><path clip-rule="evenodd" d="M0 1718.5 H1241 V1746.6 H0Z M410.33 1742.41 L419.51 1742.41 L417.97 1737.80 L411.86 1737.80 Z"/></clipPath>
<text y="1746.3" font-size="27.8" font-weight="700" fill="#ffffff" clip-path="url(#cq2)"><tspan x="404.3" textLength="21.31" lengthAdjust="spacingAndGlyphs">A</tspan><tspan x="426" textLength="17.75" lengthAdjust="spacingAndGlyphs">R</tspan><tspan x="445.4" textLength="22.39" lengthAdjust="spacingAndGlyphs">Q</tspan></text>
<polygon points="457.5,1736.2 461.5,1738.7 465.5,1746.7 454.8,1741.2" fill="#e8c63e"/>
<clipPath id="cq3"><path clip-rule="evenodd" d="M0 1716.4 H1241 V1744.5 H0Z M610.73 1740.31 L619.91 1740.31 L618.37 1735.70 L612.26 1735.70 Z"/></clipPath>
<text y="1744.2" font-size="27.8" font-weight="700" fill="#ffffff" clip-path="url(#cq3)"><tspan x="604.7" textLength="21.31" lengthAdjust="spacingAndGlyphs">A</tspan><tspan x="626.4" textLength="17.75" lengthAdjust="spacingAndGlyphs">R</tspan><tspan x="645.8" textLength="22.39" lengthAdjust="spacingAndGlyphs">Q</tspan></text>
<polygon points="657.9,1734.1 661.9,1736.6 665.9,1744.6 655.2,1739.1" fill="#e8c63e"/>
<polygon points="870,1727 879.5,1743.5 860.5,1743.5" fill="#41ad49"/>
<polygon points="868.5,1734 873.5,1742.5 862.5,1742.5" fill="#d9c23c"/>
<polygon points="1065.5,1727.5 1075,1744 1056,1744" fill="#41ad49"/>
<polygon points="1064,1734.5 1069,1743 1058,1743" fill="#d9c23c"/>
<text x="884.5" y="1743.8" font-size="13.6" font-weight="700" fill="#ffffff" textLength="105.2" lengthAdjust="spacingAndGlyphs">Angel Broking App</text>
<text x="1079.2" y="1744" font-size="13.6" font-weight="700" fill="#ffffff" textLength="77" lengthAdjust="spacingAndGlyphs">Angel Broking</text>
<circle cx="1036.3" cy="1708.6" r="9.6" fill="#7f9fba"/>
<circle cx="1033.5" cy="1706" r="4.2" fill="#b4cde0" opacity="0.8"/>
<path d="M1024.5 1712 Q1036 1724 1048 1712 Q1040 1727 1036 1727 Q1031 1727 1024.5 1712Z" fill="#4f9a3a"/>
<polygon points="1032,1722 1040,1722 1042,1738 1029,1738" fill="#c9a536"/>
<rect x="1024" y="1737.5" width="21.5" height="17.5" fill="#5a3216"/>
<rect x="1027.2" y="1741" width="15" height="11" fill="#d98f3a"/>
</g>
</svg>
</body>
</html>
